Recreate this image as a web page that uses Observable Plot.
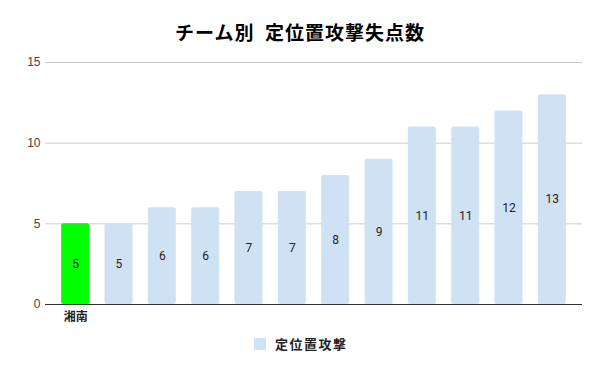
<!DOCTYPE html>
<html><head><meta charset="utf-8">
<script src="https://cdn.jsdelivr.net/npm/d3@7"></script>
<script src="https://cdn.jsdelivr.net/npm/@observablehq/plot@0.6"></script>
<style>
body{margin:0;background:#fff;}
#wrap{position:relative;width:600px;height:371px;font-family:"Liberation Sans","Noto Sans CJK JP",sans-serif;}
#title{position:absolute;left:0;top:18px;width:600px;text-align:center;font-size:19px;font-weight:bold;color:#000;font-family:"Noto Sans CJK JP",sans-serif;letter-spacing:1px;white-space:pre;}
#legend{position:absolute;left:254px;top:334px;display:flex;align-items:center;font-size:13px;font-weight:bold;color:#222;font-family:"Noto Sans CJK JP",sans-serif;letter-spacing:1.5px;}
#legend span.sw{display:inline-block;width:12px;height:12px;background:#cfe2f3;margin-right:9px;}
</style></head>
<body><div id="wrap"><div id="title">チーム別  定位置攻撃失点数</div><div id="chart"></div><div id="legend"><span class="sw"></span>定位置攻撃</div></div>
<script>
const tickLabels = ["湘南","","","","","","","","","","",""];
const values = [5,5,6,6,7,7,8,9,11,11,12,13];
const colors = ["#00ff00","#cfe2f3","#cfe2f3","#cfe2f3","#cfe2f3","#cfe2f3","#cfe2f3","#cfe2f3","#cfe2f3","#cfe2f3","#cfe2f3","#cfe2f3"];
const yTicks = [0,5,10,15];
const data = values.map((v,i)=>({i, v, c: colors[i]}));
const chart = Plot.plot({
  width: 600, height: 371,
  marginTop: 62, marginBottom: 67, marginLeft: 45, marginRight: 18,
  style: {fontFamily: '"Liberation Sans","Noto Sans CJK JP",sans-serif', fontSize: "12px", color: "#444", background: "#fff"},
  x: {type: "band", domain: d3.range(values.length), paddingInner: 0.354, paddingOuter: 0.373, round: false, label: null},
  y: {domain: [0,15], label: null},
  marks: [
    Plot.gridY(yTicks, {stroke: "#ccc", strokeOpacity: 1}),
    Plot.barY(data, {x: "i", y: "v", fill: "c", rx: 2}),
    Plot.ruleY([0], {stroke: "#333", strokeWidth: 1}),
    Plot.text(data, {x: "i", y: d => d.v / 2, text: d => String(d.v), fill: "#222", fontSize: 12, fontFamily: "Roboto, sans-serif"}),
    Plot.axisY(yTicks, {tickSize: 0, tickPadding: 5, fontSize: 12, fill: "#444"}),
    Plot.axisX({tickSize: 0, tickPadding: 8, tickFormat: i => tickLabels[i], fontSize: 12, fontWeight: "bold", fill: "#222", fontFamily: '"Noto Sans CJK JP",sans-serif'})
  ]
});
document.getElementById("chart").appendChild(chart);
</script></body></html>
